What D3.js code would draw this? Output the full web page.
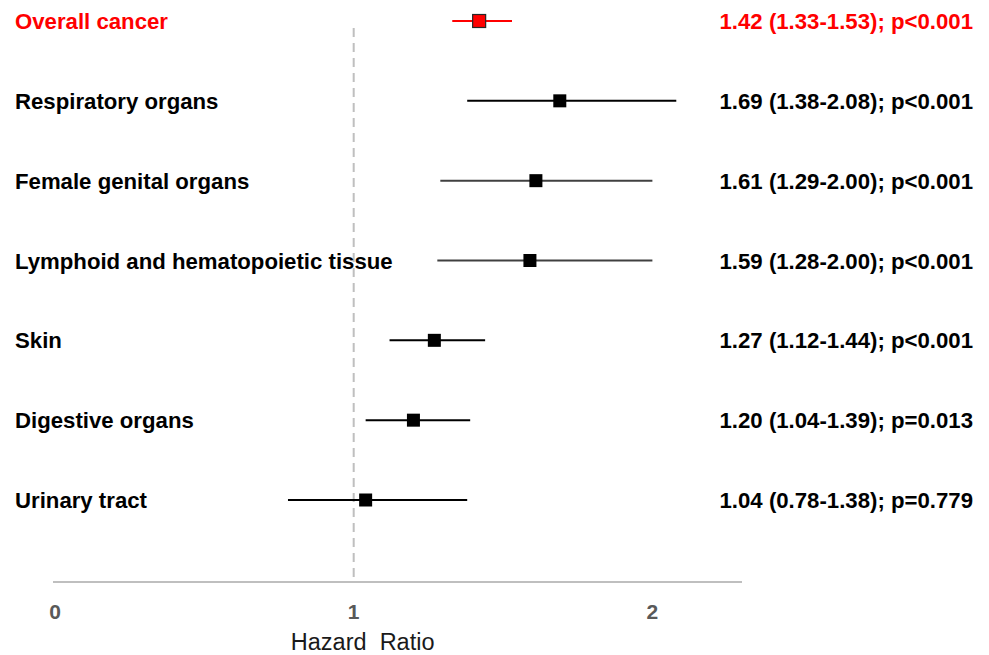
<!DOCTYPE html>
<html><head><meta charset="utf-8">
<script src="https://cdn.jsdelivr.net/npm/d3@7"></script>
<style>body{margin:0;background:#fff}</style>
</head><body>
<svg id="c" width="989" height="655"></svg>
<script>
const categories = ["Overall cancer","Respiratory organs","Female genital organs","Lymphoid and hematopoietic tissue","Skin","Digestive organs","Urinary tract"];
const hr = [1.42,1.69,1.61,1.59,1.27,1.20,1.04];
const lower = [1.33,1.38,1.29,1.28,1.12,1.04,0.78];
const upper = [1.53,2.08,2.00,2.00,1.44,1.39,1.38];
const pLabels = ["p<0.001","p<0.001","p<0.001","p<0.001","p<0.001","p=0.013","p=0.779"];
const xTicks = [0,1,2];
const lineColors = ["#ff0000","#000","#404040","#404040","#000","#000","#000"];

const svg = d3.select("#c");
const x = d3.scaleLinear().domain([0,2.3]).range([55,742]);
const y = d3.scalePoint().domain(categories).range([21,500]);
const font = "'Liberation Sans', Arial, sans-serif";
const axisY = 582;

// reference line
svg.append("line").attr("x1",x(1)).attr("x2",x(1)).attr("y1",28).attr("y2",axisY)
  .attr("stroke","#bfbfbf").attr("stroke-width",2).attr("stroke-dasharray","9,6");

// axis line (domain) via d3 axis, labels drawn from scale
const axis = d3.axisBottom(x).tickValues([]).tickSize(0);
const gA = svg.append("g").attr("transform",`translate(0,${axisY})`).call(axis);
gA.select(".domain").attr("d",`M53,0H742`).attr("stroke","#bfbfbf").attr("stroke-width",2);

svg.append("g").selectAll("text").data(xTicks).join("text")
  .attr("x",d=>x(d)).attr("y",axisY+37).attr("text-anchor","middle")
  .attr("font-family",font).attr("font-size",21).attr("font-weight","bold").attr("fill","#595959")
  .text(d=>d3.format("d")(d));

svg.append("text").attr("x",x(1.03)).attr("y",650).attr("text-anchor","middle")
  .style("font-family",font).style("font-size","23.5px").attr("fill","#1a1a1a").attr("xml:space","preserve").text("Hazard  Ratio");

const rows = categories.map((c,i)=>({c,i,hr:hr[i],lo:lower[i],hi:upper[i],p:pLabels[i]}));
const g = svg.selectAll(".row").data(rows).join("g");

g.append("line").attr("x1",d=>x(d.lo)).attr("x2",d=>x(d.hi)).attr("y1",d=>y(d.c)).attr("y2",d=>y(d.c))
  .attr("stroke",d=>lineColors[d.i]).attr("stroke-width",2);
g.append("rect").attr("x",d=>x(d.hr)-6.5).attr("y",d=>y(d.c)-6.5).attr("width",13).attr("height",13)
  .attr("fill",d=>d.i===0?"#ff0000":"#000").attr("stroke",d=>d.i===0?"#262626":"none").attr("stroke-width",1.2);

g.append("text").attr("x",15).attr("y",d=>y(d.c)+8).style("font-family",font).style("font-size","22.2px")
  .style("font-weight","bold").attr("fill",d=>d.i===0?"#ff0000":"#000").text(d=>d.c);
g.append("text").attr("x",973).attr("y",d=>y(d.c)+8).attr("text-anchor","end").style("font-family",font).style("font-size","22.2px")
  .style("font-weight","bold").attr("fill",d=>d.i===0?"#ff0000":"#000")
  .text(d=>`${d.hr.toFixed(2)} (${d.lo.toFixed(2)}-${d.hi.toFixed(2)}); ${d.p}`);
</script>
</body></html>
